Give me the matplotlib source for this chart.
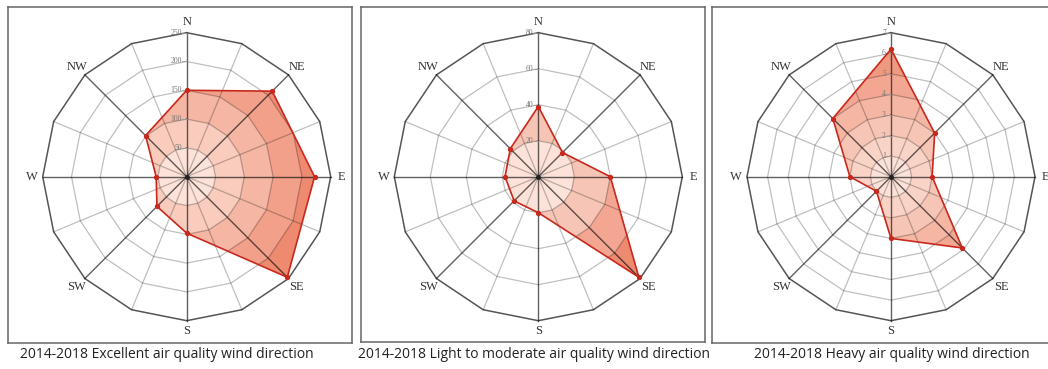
import matplotlib
matplotlib.use('Agg')
import matplotlib.pyplot as plt
import numpy as np
from matplotlib.patches import Polygon
from matplotlib.colors import to_rgb

# wind directions (clockwise from north)
directions = ['N', 'NE', 'E', 'SE', 'S', 'SW', 'W', 'NW']

# frequency of each direction
excellent = [150, 210, 222, 247, 98, 73, 53, 101]
light_moderate = [39, 19, 40, 79, 20, 19, 18.5, 22]
heavy = [6.2, 3, 2, 4.9, 3, 1, 2, 4]

ring_step = [50, 20, 1]
ring_max = [250, 80, 7]

captions = ['2014-2018 Excellent air quality wind direction',
            '2014-2018 Light to moderate air quality wind direction',
            '2014-2018 Heavy air quality wind direction']

W, H = 1048, 369
R = 144.0
# panel boxes in pixels: left, right, top, bottom, centre x, centre y, caption x
boxes = [(8, 352, 7, 343, 186.7, 176.7, 167),
         (361, 705, 7, 342, 538.3, 176.7, 534),
         (712, 1060, 7, 343, 891, 176.7, 891.5)]

light = np.array(to_rgb('#fce2d8'))
dark = np.array(to_rgb('#ee8a70'))
edge_red = '#c9281c'

fig = plt.figure(figsize=(W / 100, H / 100), dpi=100)


def xy(r, ang_deg):
    a = np.radians(ang_deg)
    return r * np.sin(a), r * np.cos(a)


spoke_ang = np.arange(16) * 22.5
data_ang = np.arange(8) * 45.0

for vals, step, vmax, cap, (l, rgt, t, b, cx, cy, capx) in zip(
        [excellent, light_moderate, heavy], ring_step, ring_max, captions, boxes):
    ax = fig.add_axes([l / W, 1 - b / H, (rgt - l) / W, (b - t) / H])
    ax.set_xlim((l - cx) / R, (rgt - cx) / R)
    ax.set_ylim((cy - b) / R, (cy - t) / R)
    ax.set_xticks([])
    ax.set_yticks([])
    for s in ax.spines.values():
        s.set_color('#666666')
        s.set_linewidth(1.1)

    n = int(round(vmax / step))
    r = np.array(vals) / vmax
    px, py = xy(r, data_ang)
    data_poly = Polygon(np.column_stack([px, py]), closed=True,
                        facecolor='none', edgecolor=edge_red, lw=1.2, zorder=4)
    ax.add_patch(data_poly)

    # banded fill, darker toward the outside
    for k in range(n, 0, -1):
        frac = (k - 1) / (n - 1) if n > 1 else 0
        col = light + (dark - light) * frac
        gx, gy = xy(k / n, spoke_ang)
        band = Polygon(np.column_stack([gx, gy]), closed=True,
                       facecolor=col, edgecolor='none', zorder=1)
        ax.add_patch(band)
        band.set_clip_path(data_poly)

    # rings
    for k in range(1, n + 1):
        gx, gy = xy(k / n, np.append(spoke_ang, 0))
        if k == n:
            ax.plot(gx, gy, color='#555555', lw=1.1, zorder=3)
        else:
            ax.plot(gx, gy, color='black', alpha=0.25, lw=0.9, zorder=3)

    # spokes
    for i, a in enumerate(spoke_ang):
        ex, ey = xy(1.0, a)
        if i % 2 == 0:
            ax.plot([0, ex], [0, ey], color='black', alpha=0.62, lw=1.0, zorder=3)
        else:
            ax.plot([0, ex], [0, ey], color='black', alpha=0.25, lw=0.9, zorder=3)

    ax.plot(px, py, 'o', color=edge_red, ms=2.8, zorder=5)
    ax.plot(0, 0, 'o', color='#222222', ms=2.5, zorder=5)

    # ring labels along the north spoke
    for k in range(1, n + 1):
        ax.plot([-0.035, 0], [k / n, k / n], color='#999999', lw=0.6, zorder=3)
        ax.text(-0.035, k / n, f'{k * step:g}', fontsize=5.5, color='#777777',
                family='Liberation Serif', ha='right', va='center', zorder=6)

    for d, a in zip(directions, data_ang):
        rr = 1.08 if a % 90 else 1.075
        lx, ly = xy(rr, a)
        ax.text(lx, ly, d, fontsize=9, family='Liberation Serif', color='#333333',
                ha='center', va='center')

    fig.text(capx / W, 1 - 355 / H, cap, fontsize=10, family='Open Sans',
             color='#222222', ha='center', va='center')

fig.savefig('out.png', dpi=100)
